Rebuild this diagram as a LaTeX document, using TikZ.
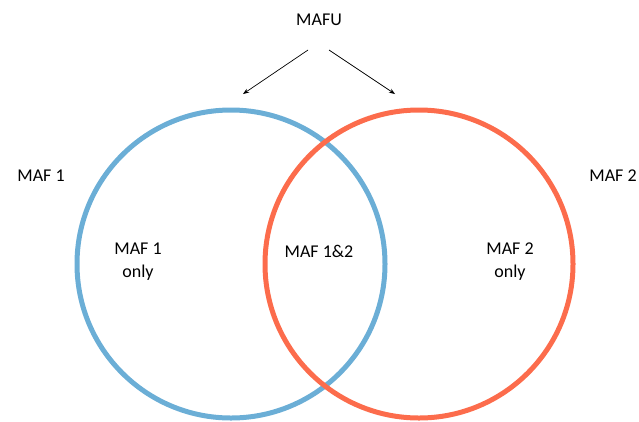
\documentclass[tikz,border=0pt]{standalone}
\usepackage{fontspec}
\setmainfont{Carlito}
\usepackage{tikz}
\usetikzlibrary{calc,arrows.meta}
\definecolor{mafblue}{RGB}{107,174,214}
\definecolor{mafred}{RGB}{252,108,76}
\begin{document}
\begin{tikzpicture}[x=1pt,y=-1pt,
	lbl/.style={inner sep=0pt,align=center,font=\fontsize{18}{23}\selectfont},
	ring/.style={line width=5pt}]
		\useasboundingbox (0,0) rectangle (639,421);
		\draw[ring,mafblue] (231,264) circle[radius=154]; %MAF 1
		\draw[ring,mafred] (419,264) circle[radius=154]; %MAF 2
		\node[lbl] (mafu) at (319,20) {MAFU};
		\coordinate (s1) at (308,50);
		\coordinate (e1) at (243,94);
		\coordinate (s2) at (329,50);
		\coordinate (e2) at (395,94);
		\draw[-{Stealth[length=6pt,width=4.5pt]},line width=0.7pt] (s1) -- (e1);
		\draw[-{Stealth[length=6pt,width=4.5pt]},line width=0.7pt] (s2) -- (e2);
		\node[lbl] (maf1) at (41,176) {MAF 1};
		\node[lbl] (maf2) at (613,176) {MAF 2};
		\node[lbl] (only1) at (138,262) {MAF 1\\only};
		\node[lbl] (both) at (319,251) {MAF 1\&2};
		\node[lbl] (only2) at (510,262) {MAF 2\\only};
	\end{tikzpicture}
\end{document}
